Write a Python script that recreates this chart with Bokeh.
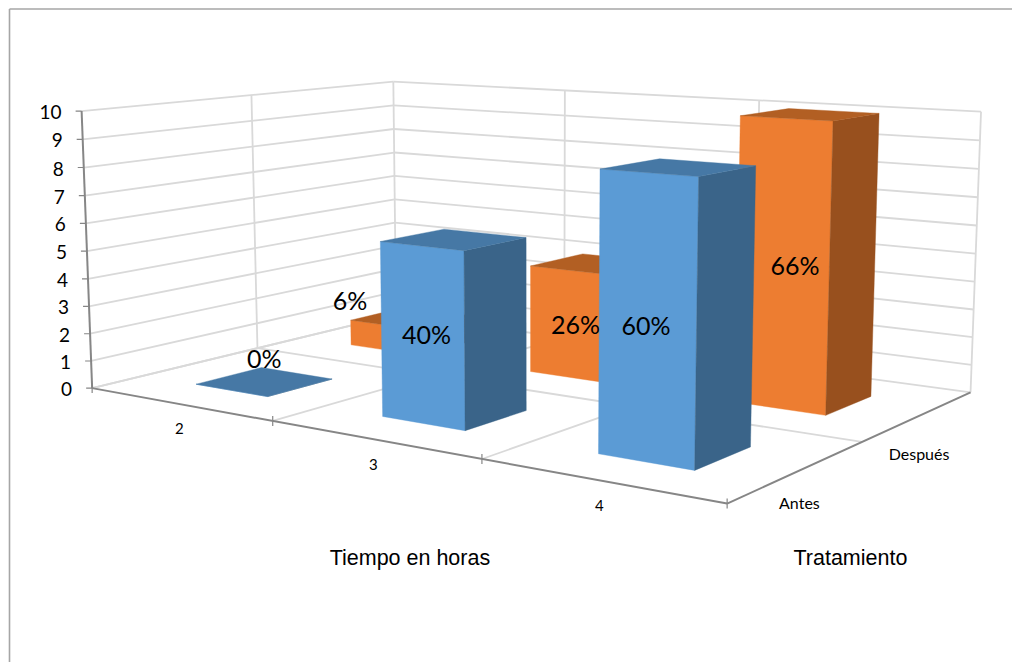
import numpy as np
from bokeh.core.properties import value
from bokeh.embed import file_html
from bokeh.models import ColumnDataSource
from bokeh.plotting import figure
from bokeh.resources import INLINE

# Chart data: patient counts per treatment group out of a total of fifteen
hours = ["2", "3", "4"]
groups = ["Antes", "Después"]
antes = [0, 6, 9]
despues = [1, 4, 10]
total = 15
y_ticks = list(range(0, 11))
x_title = "Tiempo en horas"
depth_title = "Tratamiento"

# Camera calibration: box coordinates (hour slot, group slot, value) -> page pixels
CAL_WORLD = [
    (0, 0, 0), (1, 0, 0), (2, 0, 0), (3, 0, 0),
    (3, 1, 0), (3, 2, 0), (2, 2, 0), (1, 2, 0), (0, 2, 0), (0, 1, 0),
    (0, 0, 10), (0, 1, 10), (0, 2, 10), (1, 2, 10), (2, 2, 10), (3, 2, 10),
    (2.3, 0.3, 9), (2.7, 0.3, 9), (2.7, 0.7, 9), (2.3, 0.7, 9),
    (2.3, 0.3, 0), (2.7, 0.3, 0), (2.7, 0.7, 0),
    (2.3, 1.3, 10), (2.7, 1.3, 10), (2.7, 1.7, 10), (2.3, 1.7, 10),
    (2.7, 1.3, 0), (2.7, 1.7, 0),
    (1.3, 0.3, 6), (1.7, 0.3, 6), (1.7, 0.7, 6), (1.3, 0.7, 6),
    (1.3, 0.3, 0), (1.7, 0.3, 0), (1.7, 0.7, 0),
    (1.3, 1.3, 4), (1.3, 1.3, 0), (1.3, 1.7, 4),
]
CAL_PAGE = [
    (92, 388), (273, 420), (482, 458), (728, 502),
    (855, 445), (971, 393), (757, 361), (565, 333), (393, 307), (257, 352),
    (81, 110), (250, 95), (393, 83), (565, 92), (758, 102), (981, 111),
    (600, 167), (698, 174), (755, 164), (659, 157),
    (598, 453), (694, 469), (750, 447),
    (740, 114), (833, 119), (878, 113), (788, 108),
    (825, 415), (870, 397),
    (380, 241), (464, 249), (526, 237), (443, 229),
    (382, 417), (465, 431), (526, 411),
    (530, 267), (530, 373), (583, 255),
]


def solve_camera(world, page):
    rows = []
    for (u, v, w), (x, y) in zip(world, page):
        X = np.array([u / 3, v / 2, w / 10, 1.0])
        x, y = x / 1000, y / 1000
        rows.append(np.r_[X, np.zeros(4), -x * X])
        rows.append(np.r_[np.zeros(4), X, -y * X])
    return np.linalg.svd(np.array(rows))[2][-1].reshape(3, 4)


CAMERA = solve_camera(CAL_WORLD, CAL_PAGE)


def project(u, v, w):
    a, b, c = CAMERA @ np.array([u / 3, v / 2, w / 10, 1.0])
    return float(a / c * 1000), float(b / c * 1000)


GRID = "#D9D9D9"
AXIS = "#868686"
FONT = "Lato"
BAR_LO, BAR_HI = 0.3, 0.7
COLORS = [
    ("#5B9BD5", "#3A6489", "#4678A5"),
    ("#ED7D31", "#98501E", "#B25F23"),
]
# Pixel shift of each value label away from the centre of its bar's front face
LABEL_SHIFT = [
    [(33, -32), (4, -1), (-1, 6)],
    [(-35, -37), (6, 0), (12, 0)],
]

p = figure(width=1012, height=662, x_range=(0, 1012), y_range=(662, 0),
           output_backend="svg", toolbar_location=None, min_border=0)
p.axis.visible = False
p.grid.visible = False
p.outline_line_color = None

# Chart-area border, open on the sides cut off by the page
p.segment([9, 9], [8.5, 8.5], [1012, 9], [8.5, 662], line_color="#A6A6A6", line_width=1.6)


def segments(pairs, color, width):
    starts = [project(*a) for a, _ in pairs]
    ends = [project(*b) for _, b in pairs]
    p.segment([s[0] for s in starts], [s[1] for s in starts],
              [e[0] for e in ends], [e[1] for e in ends],
              line_color=color, line_width=width)


# Walls and floor gridlines
grid_pairs = []
for w in y_ticks:
    grid_pairs.append(((0, 0, w), (0, 2, w)))
    grid_pairs.append(((0, 2, w), (3, 2, w)))
for u in range(4):
    grid_pairs.append(((u, 2, 0), (u, 2, 10)))
for u in range(3):
    grid_pairs.append(((u, 0, 0), (u, 2, 0)))
grid_pairs.append(((0, 1, 0), (0, 1, 10)))
grid_pairs.append(((0, 1, 0), (3, 1, 0)))
segments(grid_pairs, GRID, 1.8)

# Axis lines and tick marks
segments([((0, 0, 0), (0, 0, 10)), ((0, 0, 0), (3, 0, 0)), ((3, 0, 0), (3, 2, 0))], AXIS, 2)
yt = [project(0, 0, w) for w in y_ticks]
p.segment([t[0] - 6 for t in yt], [t[1] for t in yt], [t[0] for t in yt], [t[1] for t in yt],
          line_color=AXIS, line_width=1.2)
xt = [project(u, 0, 0) for u in range(4)]
p.segment([t[0] for t in xt], [t[1] - 5 for t in xt], [t[0] for t in xt], [t[1] + 5 for t in xt],
          line_color=AXIS, line_width=1.2)


# Bars, painted from the back row to the front row
def bar_faces(i, d, height):
    u0, u1 = i + BAR_LO, i + BAR_HI
    v0, v1 = d + BAR_LO, d + BAR_HI
    front = [(u0, v0, 0), (u1, v0, 0), (u1, v0, height), (u0, v0, height)]
    side = [(u1, v0, 0), (u1, v1, 0), (u1, v1, height), (u1, v0, height)]
    top = [(u0, v0, height), (u1, v0, height), (u1, v1, height), (u0, v1, height)]
    return front, side, top


xs, ys, fills = [], [], []
for d, series in reversed(list(enumerate([antes, despues]))):
    for i, height in enumerate(series):
        for face, color in zip(bar_faces(i, d, height), COLORS[d]):
            pts = [project(*q) for q in face]
            xs.append([q[0] for q in pts])
            ys.append([q[1] for q in pts])
            fills.append(color)
p.patches("xs", "ys", fill_color="fills", line_color="fills", line_width=0.4,
          source=ColumnDataSource(dict(xs=xs, ys=ys, fills=fills)))


def labels(points, texts, size, align="center", dx=0, dy=0, font=FONT, color="#000000"):
    p.text([q[0] for q in points], [q[1] for q in points], text=texts,
           text_font=value(font), text_font_size=size, text_color=color,
           text_align=align, text_baseline="middle", x_offset=dx, y_offset=dy)


# Value labels: percentage of the group, truncated
for d, series in enumerate([antes, despues]):
    for i, height in enumerate(series):
        anchor = project(i + 0.5, d + BAR_LO, height / 2)
        dx, dy = LABEL_SHIFT[d][i]
        labels([anchor], [f"{int(100 * height / total)}%"], "25px", dx=dx, dy=dy)

# Tick labels and axis titles
labels(yt, [str(w) for w in y_ticks], "19px", align="right", dx=-20, dy=1)
labels([project(i + 0.5, 0, 0) for i in range(3)], hours, "15px", dy=25)
labels([project(3, 0.5, 0)], [groups[0]], "16px", dx=1, dy=31)
labels([project(3, 1.5, 0)], [groups[1]], "16px", dx=0, dy=38)
labels([project(1.45, 0, 0)], [x_title], "21.5px", dx=47, dy=121, font="Liberation Sans")
labels([project(3, 0.5, 0)], [depth_title], "21.5px", dx=52, dy=87, font="Liberation Sans")

open("out.html", "w").write(file_html(p, INLINE))
